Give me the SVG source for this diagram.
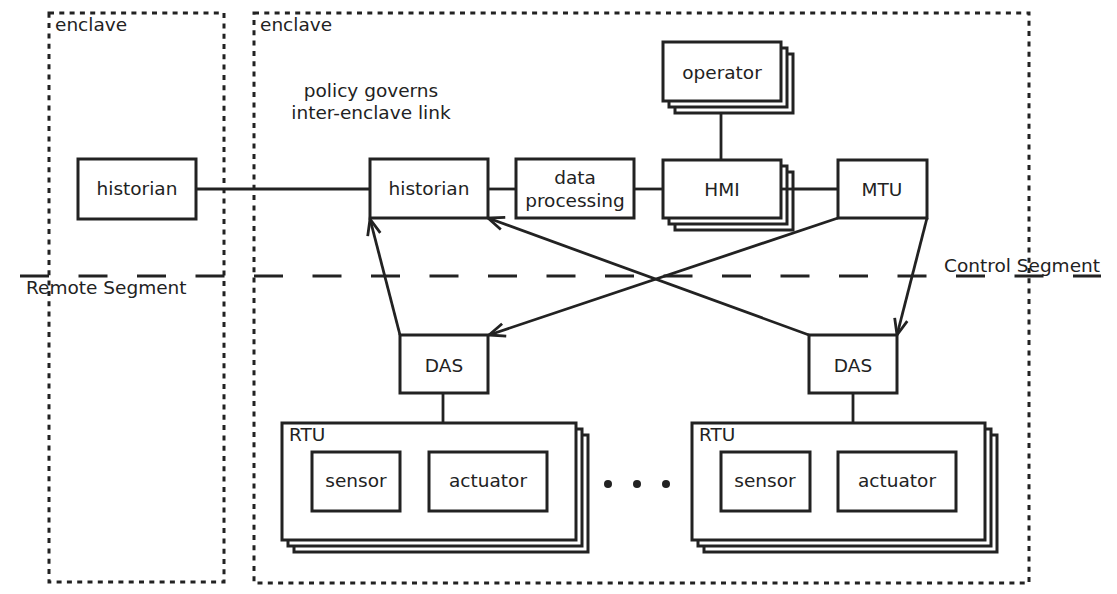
<svg xmlns="http://www.w3.org/2000/svg" width="1117" height="594" viewBox="0 0 1117 594">
<style>
  text { font-family: "DejaVu Sans", "Liberation Sans", sans-serif; font-size: 18.5px; fill: #222; }
  .c { text-anchor: middle; }
  .box { fill: #fff; stroke: #222; stroke-width: 3; }
  .encl { fill: none; stroke: #222; stroke-width: 3; stroke-dasharray: 5 5.3; }
  .seg { fill: none; stroke: #222; stroke-width: 3; stroke-dasharray: 29 29.5; }
  .ln { fill: none; stroke: #222; stroke-width: 2.8; }
  .arr { fill: none; stroke: #222; stroke-width: 2.8; marker-end: url(#open); }
</style>
<defs>
  <marker id="open" markerUnits="userSpaceOnUse" markerWidth="24" markerHeight="20" viewBox="-20 -10 24 20" refX="0" refY="0" orient="auto">
    <path d="M -16,-6.5 L 0,0 L -16,6.5" fill="none" stroke="#222" stroke-width="2.8"/>
  </marker>
</defs>
<rect width="1117" height="594" fill="#fff"/>

<g id="enclave-remote">
  <rect class="encl" x="49" y="13" width="175" height="569"/>
  <text x="55" y="31">enclave</text>
</g>
<g id="enclave-control">
  <rect class="encl" x="254" y="13" width="775" height="570"/>
  <text x="260" y="31">enclave</text>
</g>

<g id="segments">
  <line class="seg" x1="20" y1="276" x2="1101" y2="276"/>
  <text x="26" y="294">Remote Segment</text>
  <text x="944" y="272">Control Segment</text>
</g>

<g id="policy-note">
  <text class="c" x="371" y="97">policy governs</text>
  <text class="c" x="371" y="119">inter-enclave link</text>
</g>

<g id="connectors">
  <line class="ln" x1="196" y1="189" x2="370" y2="189"/>
  <line class="ln" x1="488" y1="189" x2="516" y2="189"/>
  <line class="ln" x1="634" y1="189" x2="663" y2="189"/>
  <line class="ln" x1="721" y1="101" x2="721" y2="160"/>
  <line class="ln" x1="781" y1="189" x2="838" y2="189"/>
  <line class="ln" x1="443" y1="393" x2="443" y2="423"/>
  <line class="ln" x1="853" y1="393" x2="853" y2="423"/>
  <line class="arr" x1="838" y1="218" x2="489" y2="335"/>
  <line class="arr" x1="400" y1="335" x2="370" y2="219"/>
  <line class="arr" x1="809" y1="335" x2="488" y2="218"/>
  <line class="arr" x1="927" y1="218" x2="897" y2="335"/>
</g>

<g id="historian-remote">
  <rect class="box" x="78" y="159" width="118" height="60"/>
  <text class="c" x="137" y="195">historian</text>
</g>
<g id="historian">
  <rect class="box" x="370" y="159" width="118" height="59"/>
  <text class="c" x="429" y="195">historian</text>
</g>
<g id="data-processing">
  <rect class="box" x="516" y="159" width="118" height="59"/>
  <text class="c" x="575" y="184">data</text>
  <text class="c" x="575" y="207">processing</text>
</g>
<g id="operator">
  <rect class="box" x="675" y="54" width="118" height="59"/>
  <rect class="box" x="669" y="48" width="118" height="59"/>
  <rect class="box" x="663" y="42" width="118" height="59"/>
  <text class="c" x="722" y="79">operator</text>
</g>
<g id="hmi">
  <rect class="box" x="675" y="172" width="118" height="58"/>
  <rect class="box" x="669" y="166" width="118" height="58"/>
  <rect class="box" x="663" y="160" width="118" height="58"/>
  <line class="ln" x1="781" y1="189" x2="793" y2="189"/>
  <text class="c" x="722" y="196">HMI</text>
</g>
<g id="mtu">
  <rect class="box" x="838" y="160" width="89" height="58"/>
  <text class="c" x="882" y="196">MTU</text>
</g>
<g id="das-left">
  <rect class="box" x="400" y="335" width="88" height="58"/>
  <text class="c" x="444" y="372">DAS</text>
</g>
<g id="das-right">
  <rect class="box" x="809" y="335" width="88" height="58"/>
  <text class="c" x="853" y="372">DAS</text>
</g>
<g id="rtu-left">
  <rect class="box" x="294" y="435" width="294" height="117"/>
  <rect class="box" x="288" y="429" width="294" height="117"/>
  <rect class="box" x="282" y="423" width="294" height="117"/>
  <text x="289" y="441">RTU</text>
  <g id="sensor-left">
    <rect class="box" x="312" y="452" width="88" height="59"/>
    <text class="c" x="356" y="487">sensor</text>
  </g>
  <g id="actuator-left">
    <rect class="box" x="429" y="452" width="118" height="59"/>
    <text class="c" x="488" y="487">actuator</text>
  </g>
</g>
<g id="ellipsis" fill="#222">
  <circle cx="608" cy="484" r="4"/>
  <circle cx="637" cy="484" r="4"/>
  <circle cx="666" cy="484" r="4"/>
</g>
<g id="rtu-right">
  <rect class="box" x="704" y="435" width="293" height="117"/>
  <rect class="box" x="698" y="429" width="293" height="117"/>
  <rect class="box" x="692" y="423" width="293" height="117"/>
  <text x="699" y="441">RTU</text>
  <g id="sensor-right">
    <rect class="box" x="721" y="452" width="89" height="59"/>
    <text class="c" x="765" y="487">sensor</text>
  </g>
  <g id="actuator-right">
    <rect class="box" x="838" y="452" width="118" height="59"/>
    <text class="c" x="897" y="487">actuator</text>
  </g>
</g>
</svg>
